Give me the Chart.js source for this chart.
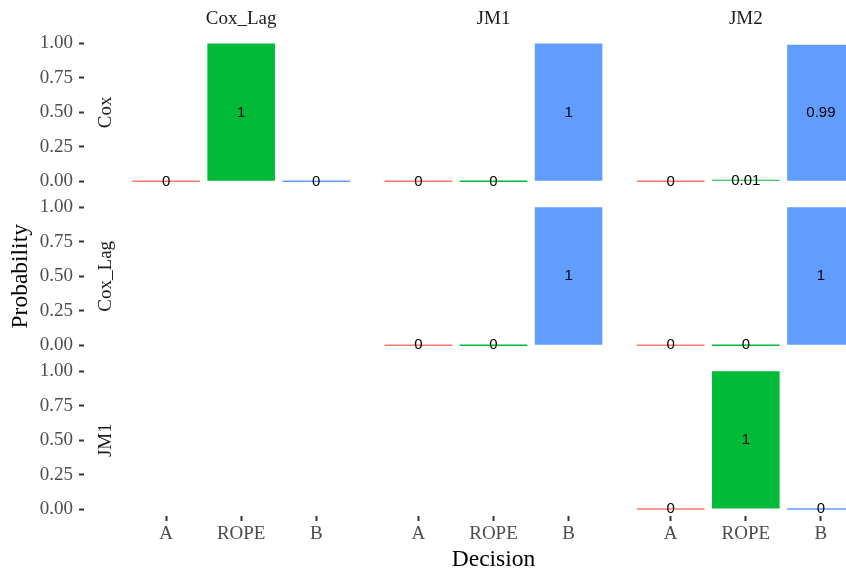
<!DOCTYPE html>
<html lang="en">
<head>
  <meta charset="UTF-8">
  <title>Decision probabilities</title>
  <script src="https://cdn.jsdelivr.net/npm/chart.js"></script>
  <style>
    html, body { margin: 0; padding: 0; background: #fff; overflow: hidden; }
    #chart { display: block; }
  </style>
</head>
<body>
  <canvas id="chart" width="880" height="576"></canvas>

  <script>
    // facet rows / columns and the decision categories
    const rowModels = ["Cox", "Cox_Lag", "JM1"];
    const colModels = ["Cox_Lag", "JM1", "JM2"];
    const decisions = ["A", "ROPE", "B"];

    // one entry per non-empty panel
    const panelRows = ["Cox", "Cox", "Cox", "Cox_Lag", "Cox_Lag", "JM1"];
    const panelCols = ["Cox_Lag", "JM1", "JM2", "JM1", "JM2", "JM2"];
    const probA    = [0, 0, 0,    0, 0, 0];
    const probRope = [1, 0, 0.01, 0, 0, 1];
    const probB    = [0, 1, 0.99, 1, 1, 0];

    const yTicks = [0, 0.25, 0.5, 0.75, 1];
    const xTicks = [0, 1, 2];

    const barColors = ["#F8766D", "#00BA38", "#619CFF"];
    const serif = "'Liberation Serif', 'Times New Roman', serif";
    const sans = "'Liberation Sans', Arial, sans-serif";

    const datasets = panelRows.map((r, i) => ({
      xAxisID: "x" + colModels.indexOf(panelCols[i]),
      yAxisID: "y" + rowModels.indexOf(r),
      data: [probA[i], probRope[i], probB[i]].map((v, k) => ({ x: k, y: v })),
      backgroundColor: barColors,
      borderWidth: 0,
      inflateAmount: 0,
      grouped: false,
      barPercentage: 0.9,
      categoryPercentage: 1.0,
      minBarLength: 1.5
    }));

    const tickGrid = {
      display: true,
      offset: false,
      drawOnChartArea: false,
      drawTicks: true,
      tickLength: 5,
      tickWidth: 2,
      tickColor: "#333333"
    };

    const scales = {};
    rowModels.forEach((m, r) => {
      scales["y" + r] = {
        type: "linear",
        position: "left",
        stack: "rows",
        weight: 13 - r,
        min: -0.05,
        max: 1.1384,
        afterBuildTicks: s => { s.ticks = yTicks.map(v => ({ value: v })); },
        afterFit: s => { s.width = 84; },
        ticks: {
          autoSkip: false,
          padding: 6,
          color: "#4D4D4D",
          font: { family: serif, size: 19 },
          callback: v => Number(v).toFixed(2)
        },
        grid: tickGrid,
        border: { display: false }
      };
    });
    // empty strip between the tick labels and the panels
    scales.ySpace = {
      type: "linear",
      position: "left",
      weight: 0,
      afterFit: s => { s.width = 37; },
      ticks: { display: false },
      grid: { display: false },
      border: { display: false }
    };
    colModels.forEach((m, c) => {
      scales["x" + c] = {
        type: "linear",
        position: "bottom",
        stack: "cols",
        weight: c + 1,
        offset: false,
        min: -0.6,
        max: 2.76,
        afterBuildTicks: s => { s.ticks = xTicks.map(v => ({ value: v })); },
        afterFit: s => { s.height = 60; },
        ticks: {
          autoSkip: false,
          maxRotation: 0,
          padding: 2,
          color: "#4D4D4D",
          font: { family: serif, size: 19 },
          callback: v => decisions[v]
        },
        grid: tickGrid,
        border: { display: false }
      };
    });

    // value labels in the middle of each bar
    const barLabels = {
      id: "barLabels",
      afterDatasetsDraw(chart) {
        const ctx = chart.ctx;
        ctx.save();
        ctx.font = "15px " + sans;
        ctx.fillStyle = "#000";
        ctx.textAlign = "center";
        ctx.textBaseline = "middle";
        chart.data.datasets.forEach((ds, i) => {
          const ys = chart.scales[ds.yAxisID];
          chart.getDatasetMeta(i).data.forEach((bar, k) => {
            const v = ds.data[k].y;
            ctx.fillText(String(v), bar.x, ys.getPixelForValue(v / 2));
          });
        });
        ctx.restore();
      }
    };

    // facet strips and axis titles
    const strips = {
      id: "strips",
      afterDraw(chart) {
        const ctx = chart.ctx;
        const sc = chart.scales;
        ctx.save();
        ctx.fillStyle = "#1A1A1A";
        ctx.textAlign = "center";
        ctx.textBaseline = "alphabetic";
        ctx.font = "19px " + serif;
        colModels.forEach((m, c) => {
          ctx.fillText(m, sc["x" + c].getPixelForValue(1), 24);
        });
        rowModels.forEach((m, r) => {
          ctx.save();
          ctx.translate(111, sc["y" + r].getPixelForValue(0.5));
          ctx.rotate(-Math.PI / 2);
          ctx.fillText(m, 0, 0);
          ctx.restore();
        });
        ctx.fillStyle = "#000";
        ctx.font = "23.5px " + serif;
        ctx.fillText("Decision", sc.x1.getPixelForValue(1), 566);
        ctx.translate(27, sc.y1.getPixelForValue(0.5));
        ctx.rotate(-Math.PI / 2);
        ctx.fillText("Probability", 0, 0);
        ctx.restore();
      }
    };

    new Chart(document.getElementById("chart"), {
      type: "bar",
      data: { datasets: datasets },
      options: {
        responsive: false,
        animation: false,
        layout: { padding: { top: 24.4, left: 0, right: 2, bottom: 0 } },
        plugins: { legend: { display: false }, tooltip: { enabled: false } },
        scales: scales
      },
      plugins: [barLabels, strips]
    });
  </script>
</body>
</html>
